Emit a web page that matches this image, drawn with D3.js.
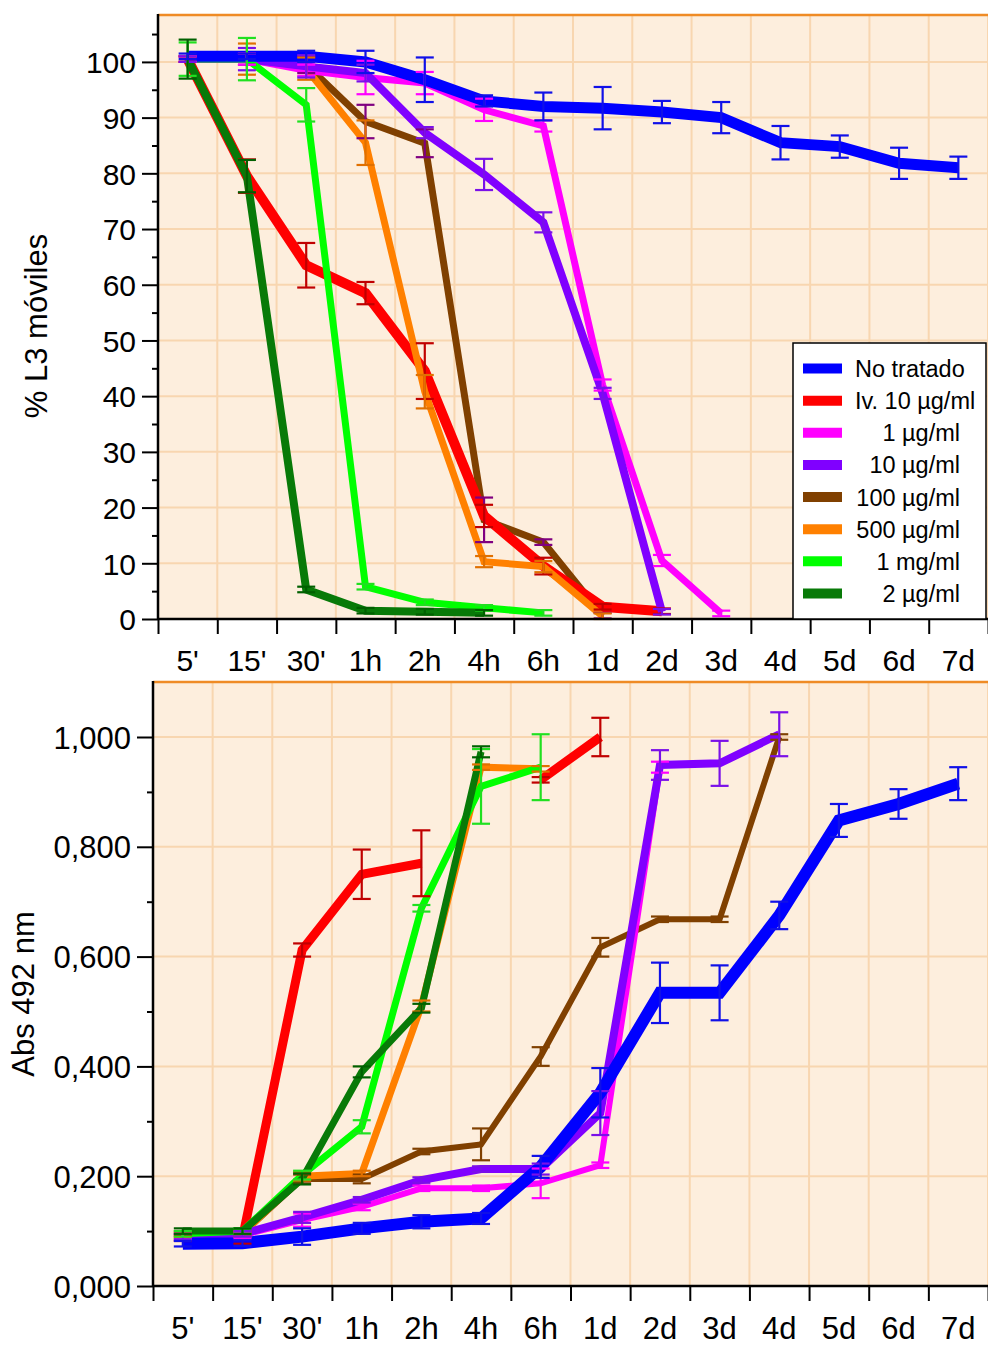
<!DOCTYPE html>
<html>
<head>
<meta charset="utf-8">
<script src="https://cdn.jsdelivr.net/npm/d3@7"></script>
<style>
  html, body { margin: 0; padding: 0; background: #ffffff; }
  svg { display: block; }
  text { font-family: "Liberation Sans", Arial, sans-serif; fill: #000; }
</style>
</head>
<body>
<svg id="chart" width="988" height="1346"></svg>
<script>
// ---- Time points (shared by both panels) ----
const categories = ["5'", "15'", "30'", "1h", "2h", "4h", "6h", "1d", "2d", "3d", "4d", "5d", "6d", "7d"];

// ---- Treatment groups ----
const seriesNames = ["No tratado", "Iv. 10 µg/ml", "1 µg/ml", "10 µg/ml", "100 µg/ml", "500 µg/ml", "1 mg/ml", "2 µg/ml"];
const seriesColors = ["#0000ff", "#ff0000", "#ff00ff", "#8000ff", "#804000", "#ff8000", "#00ff00", "#087a08"];

// ---- Upper panel: % motile L3 (mean and error) ----
const motNoTratado    = [101, 101, 101, 100, 96.8, 93, 92, 91.7, 91, 90, 85.5, 84.8, 81.8, 81];
const motNoTratadoErr = [0.5, 0.5, 1, 2, 4, 1, 2.5, 3.8, 2, 2.8, 3, 2, 2.8, 2];
const motIv10         = [100.5, 79.5, 63.5, 58.5, 44.5, 18.5, 9.5, 2.2, 1.4];
const motIv10Err      = [0.5, 3, 4, 2, 5, 2, 1.5, 0.5, 0.5];
const motP1           = [100.5, 100.5, 98.5, 97.2, 96.2, 91.4, 88.5, 42, 10.5, 1];
const motP1Err        = [0.5, 1, 1, 3, 2, 2, 1, 1, 1, 0.5];
const motP10          = [100.5, 100.5, 99.2, 98, 87.3, 79.8, 71.2, 40.5, 1.3];
const motP10Err       = [0.5, 2, 2, 1.5, 1, 2.8, 1.8, 1, 0.5];
const motP100         = [100.5, 100.5, 99.5, 89.3, 85.4, 17.8, 13.8, 0.6];
const motP100Err      = [0.5, 1, 1.5, 3, 2.5, 4, 0.5, 0.5];
const motP500         = [100.5, 100.5, 98.8, 85.5, 40.8, 10.3, 9.4, 0.5];
const motP500Err      = [0.5, 2.8, 2, 4, 3, 1, 1, 0.5];
const motP1000        = [100.5, 100.5, 92.3, 5.8, 3, 2, 1.1];
const motP1000Err     = [3, 3.8, 3, 0.5, 0.5, 0.5, 0.5];
const motP2           = [100.5, 79.5, 5.3, 1.5, 1.3, 1.1];
const motP2Err        = [3.5, 2.9, 0.5, 0.5, 0.5, 0.5];

// ---- Lower panel: absorbance at 492 nm (mean and error) ----
const absNoTratado    = [0.077, 0.078, 0.09, 0.105, 0.117, 0.123, 0.217, 0.352, 0.534, 0.534, 0.675, 0.848, 0.878, 0.915];
const absNoTratadoErr = [0.005, 0.005, 0.015, 0.01, 0.012, 0.01, 0.02, 0.045, 0.055, 0.05, 0.025, 0.03, 0.027, 0.03];
const absIv10         = [0.087, 0.087, 0.612, 0.75, 0.77, null, 0.922, 1.0];
const absIv10Err      = [0.005, 0.01, 0.012, 0.045, 0.06, null, 0.005, 0.035];
const absP1           = [0.09, 0.092, 0.12, 0.144, 0.178, 0.178, 0.187, 0.22, 0.945];
const absP1Err        = [0.005, 0.005, 0.012, 0.006, 0.005, 0.005, 0.027, 0.005, 0.01];
const absP10          = [0.09, 0.095, 0.125, 0.157, 0.193, 0.213, 0.213, 0.315, 0.949, 0.952, 1.005];
const absP10Err       = [0.005, 0.005, 0.01, 0.005, 0.005, 0.005, 0.01, 0.04, 0.027, 0.041, 0.04];
const absP100         = [0.095, 0.095, 0.195, 0.195, 0.245, 0.258, 0.418, 0.617, 0.668, 0.668, 1.0];
const absP100Err      = [0.005, 0.005, 0.008, 0.008, 0.005, 0.029, 0.017, 0.017, 0.005, 0.005, 0.005];
const absP500         = [0.092, 0.095, 0.2, 0.205, 0.51, 0.945, 0.942];
const absP500Err      = [0.005, 0.005, 0.008, 0.005, 0.01, 0.005, 0.005];
const absP1000        = [0.095, 0.1, 0.202, 0.29, 0.688, 0.91, 0.945];
const absP1000Err     = [0.005, 0.005, 0.008, 0.012, 0.006, 0.068, 0.06];
const absP2           = [0.1, 0.1, 0.195, 0.39, 0.506, 0.973];
const absP2Err        = [0.005, 0.005, 0.01, 0.01, 0.008, 0.01];

// ---- Axis ticks ----
const motTicks = [0, 10, 20, 30, 40, 50, 60, 70, 80, 90, 100];
const absTicks = [0, 0.2, 0.4, 0.6, 0.8, 1.0];

// ---- Styling ----
const plotBg = "#fdeedd";
const gridColor = "#f8d6b0";
const frameOrange = "#ef8b25";
const font = "'Liberation Sans', Arial, sans-serif";

const svg = d3.select("#chart");
const esLocale = d3.formatLocale({ decimal: ",", thousands: ".", grouping: [3], currency: ["", ""] });

function drawPanel(p) {
  const g = svg.append("g");
  const x = d3.scaleBand().domain(categories).range([p.left, p.right]).padding(0);
  const xEdge = d3.scaleLinear().domain([0, categories.length]).range([p.left, p.right]);
  const y = d3.scaleLinear().domain(p.yDomain).range([p.bottom, p.top]);
  const cx = c => x(c) + x.bandwidth() / 2;

  // plot background
  g.append("rect").attr("x", p.left).attr("y", p.top)
    .attr("width", p.right - p.left).attr("height", p.bottom - p.top)
    .attr("fill", plotBg);

  // grid
  const grid = g.append("g").attr("stroke", gridColor).attr("stroke-width", 2);
  d3.range(1, categories.length + 1).forEach(k => {
    grid.append("line").attr("x1", xEdge(k)).attr("x2", xEdge(k))
      .attr("y1", p.top).attr("y2", p.bottom);
  });
  p.yTicks.filter(v => v > 0).forEach(v => {
    grid.append("line").attr("x1", p.left).attr("x2", p.right)
      .attr("y1", y(v)).attr("y2", y(v));
  });

  // orange top frame
  g.append("line").attr("x1", p.left).attr("x2", p.right)
    .attr("y1", p.top + 1).attr("y2", p.top + 1)
    .attr("stroke", frameOrange).attr("stroke-width", 2.5);

  // series lines
  const line = d3.line()
    .defined(d => d.v != null)
    .x(d => cx(d.c))
    .y(d => y(d.v));

  p.order.forEach(i => {
    const s = p.series[i];
    const pts = s.values.map((v, j) => ({ c: categories[j], v }));
    g.append("path").datum(pts)
      .attr("d", line)
      .attr("fill", "none")
      .attr("stroke", seriesColors[i])
      .attr("stroke-width", p.widths[i])
      .attr("stroke-linejoin", "miter")
      .attr("stroke-miterlimit", 2)
      .attr("stroke-linecap", "butt");
  });

  // error bars
  const capHalf = 9;
  p.order.forEach(i => {
    const s = p.series[i];
    const eg = g.append("g").attr("stroke", p.errColors[i]).attr("stroke-width", 2.2).attr("fill", "none");
    s.values.forEach((v, j) => {
      const e = s.errs[j];
      if (v == null || e == null) return;
      const xc = cx(categories[j]);
      const y1 = y(v - e), y2 = y(v + e);
      eg.append("line").attr("x1", xc).attr("x2", xc).attr("y1", y1).attr("y2", y2);
      eg.append("line").attr("x1", xc - capHalf).attr("x2", xc + capHalf).attr("y1", y1).attr("y2", y1);
      eg.append("line").attr("x1", xc - capHalf).attr("x2", xc + capHalf).attr("y1", y2).attr("y2", y2);
    });
  });

  // left axis (major + minor ticks)
  const yAxis = g.append("g").attr("transform", `translate(${p.left},0)`)
    .call(d3.axisLeft(y).tickValues(p.yTicks).tickSize(16).tickSizeOuter(0)
      .tickPadding(6).tickFormat(p.yFormat));
  yAxis.selectAll("text").attr("font-size", p.tickFont).attr("font-family", font).attr("dy", "0.36em");
  yAxis.selectAll("line").attr("stroke", "#000").attr("stroke-width", 2);
  yAxis.select(".domain").remove();

  const yMinor = g.append("g").attr("transform", `translate(${p.left},0)`)
    .call(d3.axisLeft(y).tickValues(p.yMinor).tickSize(6).tickFormat(""));
  yMinor.selectAll("line").attr("stroke", "#000").attr("stroke-width", 2);
  yMinor.select(".domain").remove();

  g.append("line").attr("x1", p.left).attr("x2", p.left)
    .attr("y1", p.top).attr("y2", p.bottom + 1)
    .attr("stroke", "#000").attr("stroke-width", 2.5);

  // bottom axis: ticks at category edges, labels at centres
  const xTicks = g.append("g").attr("transform", `translate(0,${p.bottom})`)
    .call(d3.axisBottom(xEdge).tickValues(d3.range(0, categories.length + 1)).tickSize(15).tickSizeOuter(0).tickFormat(""));
  xTicks.selectAll("line").attr("stroke", "#000").attr("stroke-width", 2);
  xTicks.select(".domain").remove();
  g.append("line").attr("x1", p.left).attr("x2", p.right)
    .attr("y1", p.bottom).attr("y2", p.bottom)
    .attr("stroke", "#000").attr("stroke-width", 2.5);

  const xLabels = g.append("g").attr("transform", `translate(0,${p.bottom})`)
    .call(d3.axisBottom(x).tickSize(0).tickPadding(31));
  xLabels.select(".domain").remove();
  xLabels.selectAll("text").attr("font-size", p.tickFont).attr("font-family", font).attr("dy", "0.71em");

  // y title
  g.append("text")
    .attr("transform", `translate(${p.titleX},${p.titleY}) rotate(-90)`)
    .attr("text-anchor", "middle")
    .attr("font-size", 31)
    .text(p.title);

  return { g, x, y };
}

// Upper panel
const upperPanel = drawPanel({
  left: 158, right: 988, top: 14, bottom: 619,
  yDomain: [0, 108.6],
  yTicks: motTicks,
  yMinor: d3.range(5, 106, 10),
  yFormat: d3.format("d"),
  tickFont: 30,
  title: "% L3 móviles", titleX: 47, titleY: 326,
  series: [
    { values: motNoTratado, errs: motNoTratadoErr },
    { values: motIv10, errs: motIv10Err },
    { values: motP1, errs: motP1Err },
    { values: motP10, errs: motP10Err },
    { values: motP100, errs: motP100Err },
    { values: motP500, errs: motP500Err },
    { values: motP1000, errs: motP1000Err },
    { values: motP2, errs: motP2Err }
  ],
  widths: [11, 10, 7, 8, 7, 7, 7, 8],
  errColors: ["#1010e8", "#c00000", "#ff00ff", "#7a10e8", "#800080", "#e07000", "#20e020", "#006000"],
  order: [4, 1, 5, 2, 3, 6, 7, 0]
});

// Lower panel
const lowerPanel = drawPanel({
  left: 153, right: 988, top: 681, bottom: 1286,
  yDomain: [0, 1.102],
  yTicks: absTicks,
  yMinor: [0.1, 0.3, 0.5, 0.7, 0.9],
  yFormat: esLocale.format(".3f"),
  tickFont: 31,
  title: "Abs 492 nm", titleX: 34, titleY: 994,
  series: [
    { values: absNoTratado, errs: absNoTratadoErr },
    { values: absIv10, errs: absIv10Err },
    { values: absP1, errs: absP1Err },
    { values: absP10, errs: absP10Err },
    { values: absP100, errs: absP100Err },
    { values: absP500, errs: absP500Err },
    { values: absP1000, errs: absP1000Err },
    { values: absP2, errs: absP2Err }
  ],
  widths: [12, 9, 6, 8, 6, 7, 7, 7],
  errColors: ["#1010e8", "#c00000", "#ff00ff", "#7a10e8", "#804000", "#e07000", "#20e020", "#006000"],
  order: [4, 1, 5, 2, 3, 6, 7, 0]
});

// Legend (upper panel)
const legend = svg.append("g");
legend.append("rect")
  .attr("x", 793).attr("y", 343).attr("width", 193).attr("height", 276)
  .attr("fill", "#ffffff").attr("stroke", "#000").attr("stroke-width", 1.5);
const rowY = d3.scalePoint().domain(seriesNames).range([368.5, 593.5]);
seriesNames.forEach((name, i) => {
  const yy = rowY(name);
  legend.append("line")
    .attr("x1", 803).attr("x2", 842).attr("y1", yy).attr("y2", yy)
    .attr("stroke", seriesColors[i]).attr("stroke-width", 10);
  const leftAligned = i < 2;
  legend.append("text")
    .attr("x", leftAligned ? 855 : 960)
    .attr("y", yy)
    .attr("dy", "0.36em")
    .attr("text-anchor", leftAligned ? "start" : "end")
    .attr("font-size", 23.5)
    .text(name);
});
</script>
</body>
</html>
